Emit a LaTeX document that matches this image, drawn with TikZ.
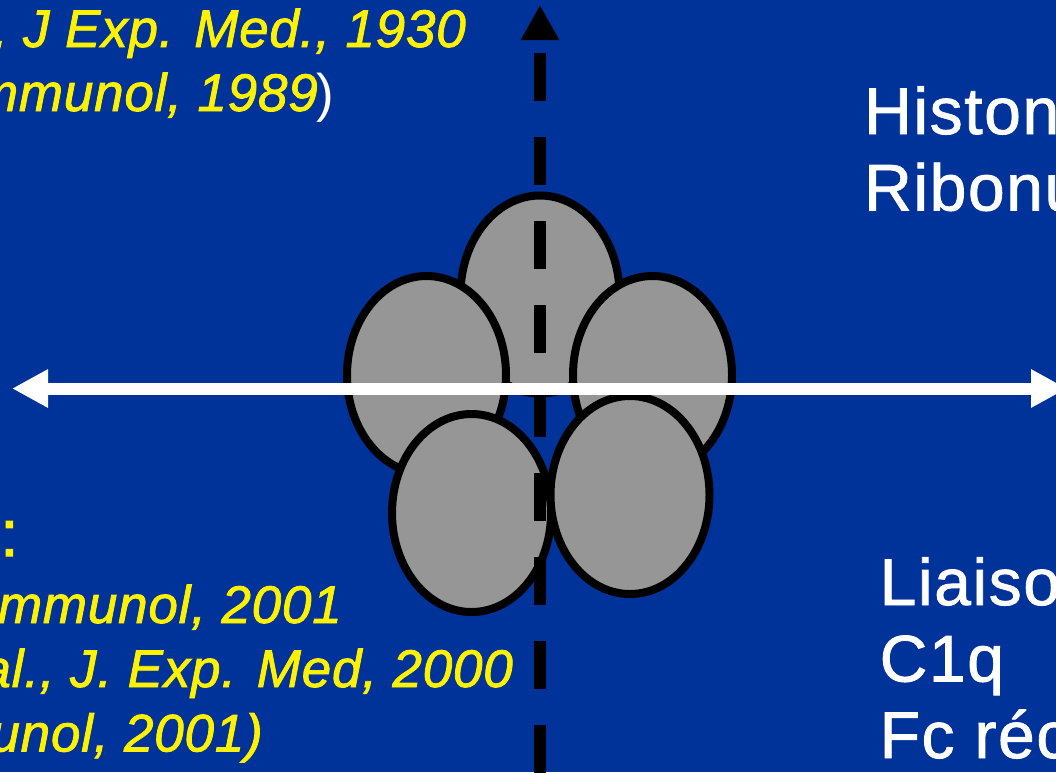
\documentclass[tikz,border=0pt]{standalone}
\usepackage{fontspec}
\setmainfont{Liberation Sans}
\newfontfamily\listfont[LetterSpace=2.4,FakeBold=1.2]{Liberation Sans}
\newfontfamily\reffont[LetterSpace=1.5,FakeBold=1.5]{Liberation Sans}
\usepackage{tikz}
\usetikzlibrary{shapes.geometric,arrows.meta}
\definecolor{slideblue}{RGB}{0,51,153}
\definecolor{cellgrey}{RGB}{150,150,150}
\tikzstyle{subunit} = [draw=black, fill=cellgrey, line width=8pt, ellipse,
    minimum width=159pt, minimum height=198pt, inner sep=0pt]
\tikzstyle{reftext} = [text=yellow, font=\reffont\fontsize{53}{53}\selectfont\itshape, inner sep=0pt]
\tikzstyle{maintext} = [text=white, font=\listfont\fontsize{66}{66}\selectfont, inner sep=0pt]
\begin{document}
\begin{tikzpicture}[x=1pt,y=-1pt]
    \useasboundingbox (0,0) rectangle (1056,772);
    \fill[slideblue] (0,0) rectangle (1056,772);
    % the five subunits
    \node [subunit] (top) at (540,294.5) {};
    \node [subunit] (left) at (426.5,375) {};
    \node [subunit] (right) at (652.5,375) {};
    \node [subunit] (lowleft) at (471.5,513) {};
    \node [subunit] (lowright) at (630,495) {};
    % the two axes
    \coordinate (axisbottom) at (540,773);
    \coordinate (axistop) at (540,5);
    \coordinate (axisleft) at (12,388.5);
    \coordinate (axisright) at (1067,388.5);
    \draw [line width=11.5pt, dash pattern=on 48pt off 36pt, -{Triangle[length=35pt,width=36pt]}] (axisbottom) -- (axistop);
    \draw [white, line width=12pt, {Triangle[length=36pt,width=36pt]}-{Triangle[length=36pt,width=36pt]}] (axisleft) -- (axisright);
    % references, upper left
    \node [reftext, anchor=base east] (refa) at (466,47) {, J Exp. Med., 1930};
    \node [reftext, anchor=base east] (refb) at (318,111) {mmunol, 1989};
    \node [text=white, font=\fontsize{53}{53}\selectfont, inner sep=0pt, anchor=base west, xshift=-2pt] (refbclose) at (refb.base east) {)};
    % references, lower left
    \node [reftext, anchor=base west, font=\reffont\fontsize{66}{66}\selectfont] (refc) at (0,556) {:};
    \node [reftext, anchor=base east] (refd) at (342,623) {mmunol, 2001};
    \node [reftext, anchor=base east] (refe) at (513,687) {al., J. Exp. Med, 2000};
    \node [reftext, anchor=base east] (reff) at (263,751.5) {unol, 2001)};
    % right hand lists
    \node [maintext, anchor=base west] (lista) at (864,134) {Histon};
    \node [maintext, anchor=base west] (listb) at (864,210.5) {Ribonu};
    \node [maintext, anchor=base west] (listc) at (879.5,605) {Liaiso};
    \node [maintext, anchor=base west] (listd) at (879.5,681.5) {C1q};
    \node [maintext, anchor=base west] (liste) at (879.5,758) {Fc réc};
\end{tikzpicture}
\end{document}
